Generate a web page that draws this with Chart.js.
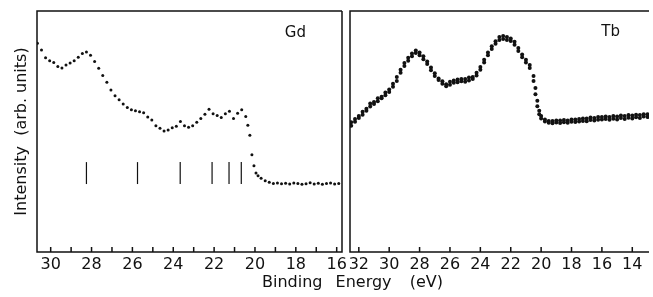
<!DOCTYPE html>
<html>
<head>
<meta charset="utf-8">
<script src="https://cdn.jsdelivr.net/npm/chart.js@4/dist/chart.umd.min.js"></script>
<style>
  html, body { margin: 0; padding: 0; background: #fff; }
  body { width: 653px; height: 297px; position: relative; overflow: hidden; }
  #gdBox { position: absolute; left: 0; top: 0; width: 346px; height: 297px; }
  #tbBox { position: absolute; left: 346px; top: 0; width: 307px; height: 297px; }
  #xTitle {
    position: absolute; top: 274px; left: 262px;
    font: 16px "DejaVu Sans", sans-serif; line-height: 16px;
    color: #111; word-spacing: 8px; white-space: pre;
  }
  #xTitle span { margin-left: 5px; }
</style>
</head>
<body>
<div id="gdBox"><canvas id="gdChart"></canvas></div>
<div id="tbBox"><canvas id="tbChart"></canvas></div>
<div id="xTitle">Binding Energy <span>(eV)</span></div>
<script>
// Gd spectrum (binding energy in eV, intensity in arb. units)
const gdEnergy = [30.65, 30.45, 30.25, 30.05, 29.85, 29.65, 29.45, 29.25, 29.05, 28.85,
  28.65, 28.45, 28.25, 28.05, 27.85, 27.65, 27.45, 27.25, 27.05, 26.85,
  26.65, 26.45, 26.25, 26.05, 25.85, 25.65, 25.45, 25.25, 25.05, 24.85,
  24.65, 24.45, 24.25, 24.05, 23.85, 23.65, 23.45, 23.25, 23.05, 22.85,
  22.65, 22.45, 22.25, 22.05, 21.85, 21.65, 21.45, 21.25, 21.05, 20.85,
  20.65, 20.45, 20.35, 20.25, 20.15, 20.05, 19.95, 19.85, 19.7, 19.5,
  19.3, 19.1, 18.9, 18.7, 18.5, 18.3, 18.1, 17.9, 17.7, 17.5,
  17.3, 17.1, 16.9, 16.7, 16.5, 16.3, 16.1, 15.9];
const gdIntensity = [86.6, 83.8, 80.6, 79.4, 78.6, 77.0, 76.4, 77.6, 78.4, 79.4,
  80.8, 82.4, 83.0, 81.6, 79.0, 76.2, 73.2, 70.4, 67.2, 64.8,
  63.2, 61.4, 60.0, 59.0, 58.6, 58.2, 57.8, 56.0, 54.8, 52.4,
  51.4, 50.2, 50.6, 51.6, 52.2, 54.2, 52.4, 51.8, 52.4, 53.8,
  55.4, 57.2, 59.2, 57.4, 56.6, 55.8, 57.4, 58.4, 55.4, 57.6,
  59.0, 56.2, 52.6, 48.4, 40.4, 35.8, 32.8, 31.6, 30.6, 29.6,
  28.9, 28.4, 28.6, 28.3, 28.5, 28.2, 28.6, 28.4, 28.1, 28.3,
  28.7, 28.2, 28.5, 28.1, 28.4, 28.6, 28.2, 28.4];
// vertical marker bars under the Gd spectrum
const gdMarkers = [28.25, 25.75, 23.66, 22.1, 21.27, 20.67];
const gdMarkerSpan = [28.2, 37.3];

// Tb spectrum, two overlapping scans
const tbEnergy = [32.5, 32.25, 32.0, 31.75, 31.5, 31.25, 31.0, 30.75, 30.5, 30.25,
  30.0, 29.75, 29.5, 29.25, 29.0, 28.75, 28.5, 28.25, 28.0, 27.75,
  27.5, 27.25, 27.0, 26.75, 26.5, 26.25, 26.0, 25.75, 25.5, 25.25,
  25.0, 24.75, 24.5, 24.25, 24.0, 23.75, 23.5, 23.25, 23.0, 22.75,
  22.5, 22.25, 22.0, 21.75, 21.5, 21.25, 21.0, 20.75, 20.5, 20.375,
  20.25, 20.125, 20.0, 19.75, 19.5, 19.25, 19.0, 18.75, 18.5, 18.25,
  18.0, 17.75, 17.5, 17.25, 17.0, 16.75, 16.5, 16.25, 16.0, 15.75,
  15.5, 15.25, 15.0, 14.75, 14.5, 14.25, 14.0, 13.75, 13.5, 13.25, 13.0];
const tbScanA = [52.4, 54.0, 55.6, 57.0, 58.6, 60.4, 61.4, 62.6, 63.8, 65.0,
  66.4, 68.6, 71.0, 74.4, 77.2, 79.4, 81.2, 82.6, 81.6, 80.0,
  78.0, 75.4, 73.0, 71.4, 69.8, 68.8, 69.4, 70.2, 70.4, 70.8,
  70.6, 71.2, 71.8, 73.2, 75.6, 78.6, 81.6, 84.2, 86.4, 88.0,
  88.4, 88.0, 87.6, 86.0, 83.4, 80.8, 78.6, 76.4, 71.0, 65.5,
  60.5, 57.2, 55.4, 54.2, 53.6, 53.4, 53.7, 53.5, 53.8, 53.6,
  54.0, 53.9, 54.2, 54.4, 54.3, 54.8, 54.6, 54.9, 55.0, 55.2,
  54.9, 55.3, 55.0, 55.6, 55.2, 55.7, 55.4, 55.9, 55.6, 56.2, 56.0];
const tbScanB = [53.8, 55.2, 56.4, 58.2, 59.4, 61.6, 62.2, 63.8, 64.4, 66.2,
  67.4, 69.8, 72.6, 75.6, 78.4, 80.6, 82.4, 83.6, 82.8, 81.2,
  79.0, 76.6, 74.2, 72.0, 70.8, 69.6, 70.6, 71.2, 71.6, 71.8,
  71.8, 72.4, 72.6, 74.4, 76.8, 79.8, 82.8, 85.4, 87.4, 89.2,
  89.6, 89.2, 88.6, 87.2, 84.6, 82.0, 79.8, 77.6, 73.0, 68.0,
  62.8, 58.6, 56.4, 55.0, 54.4, 54.4, 54.6, 54.6, 54.8, 54.6,
  55.0, 55.0, 55.2, 55.4, 55.4, 55.8, 55.6, 56.0, 56.0, 56.2,
  56.0, 56.4, 56.2, 56.6, 56.4, 56.8, 56.6, 57.0, 56.8, 57.2, 57.2];

// axes
const gdRange = [15.74, 30.67];
const tbRange = [12.9, 32.58];
const gdTicks = [30, 29, 28, 27, 26, 25, 24, 23, 22, 21, 20, 19, 18, 17, 16];
const gdTickLabels = [30, 28, 26, 24, 22, 20, 18, 16];
const tbTicks = [32, 30, 28, 26, 24, 22, 20, 18, 16, 14];
const tbTickLabels = [32, 30, 28, 26, 24, 22, 20, 18, 16, 14];

const ink = '#111';
const font = '"DejaVu Sans", sans-serif';

const framePlugin = {
  id: 'frame',
  afterDraw(chart, args, opts) {
    const {ctx, chartArea: a, scales: {x, y}} = chart;
    ctx.save();
    ctx.strokeStyle = ink;
    ctx.lineWidth = 1.5;
    ctx.beginPath();
    ctx.moveTo(a.right, a.top);
    ctx.lineTo(a.left, a.top);
    ctx.lineTo(a.left, a.bottom);
    ctx.lineTo(a.right, a.bottom);
    if (!opts.openRight) ctx.lineTo(a.right, a.top);
    x.ticks.forEach(t => {
      const px = x.getPixelForValue(t.value);
      ctx.moveTo(px, a.bottom);
      ctx.lineTo(px, a.bottom - 5);
    });
    ctx.stroke();
    ctx.fillStyle = ink;
    ctx.font = '15px ' + font;
    ctx.textAlign = 'center';
    ctx.textBaseline = 'middle';
    ctx.fillText(opts.label, x.getPixelForValue(opts.labelAt[0]), y.getPixelForValue(opts.labelAt[1]));
    ctx.restore();
  }
};

function toPoints(xs, ys) {
  return xs.map((e, i) => ({x: e, y: ys[i]}));
}

function xAxis(range, ticks, labels) {
  return {
    type: 'linear',
    reverse: true,
    min: range[0],
    max: range[1],
    grid: {display: false, drawTicks: false},
    border: {display: false},
    afterBuildTicks: s => { s.ticks = ticks.map(v => ({value: v})); },
    afterFit: s => { s.height = 45; s.paddingLeft = 0; s.paddingRight = 0; },
    ticks: {
      autoSkip: false,
      maxRotation: 0,
      padding: 3,
      color: ink,
      font: {family: font, size: 16},
      callback: v => labels.includes(v) ? String(v) : ''
    }
  };
}

function dots(label, data, r) {
  return {
    label: label,
    data: data,
    showLine: false,
    pointRadius: r,
    pointBorderWidth: 0,
    pointBackgroundColor: ink,
    pointBorderColor: ink
  };
}

const markerSets = gdMarkers.map(e => ({
  data: [{x: e, y: gdMarkerSpan[0]}, {x: e, y: gdMarkerSpan[1]}],
  showLine: true,
  borderColor: ink,
  borderWidth: 1.2,
  pointRadius: 0
}));

new Chart(document.getElementById('gdChart'), {
  type: 'scatter',
  data: {
    datasets: [dots('Gd', toPoints(gdEnergy, gdIntensity), 1.5), ...markerSets]
  },
  options: {
    responsive: true,
    maintainAspectRatio: false,
    animation: false,
    layout: {padding: {left: 0, right: 4, top: 11, bottom: 0}},
    plugins: {
      legend: {display: false},
      tooltip: {enabled: false},
      frame: {label: 'Gd', labelAt: [18.02, 90.7], openRight: false}
    },
    scales: {
      x: xAxis(gdRange, gdTicks, gdTickLabels),
      y: {
        min: 0,
        max: 100,
        grid: {display: false, drawTicks: false},
        border: {display: false},
        ticks: {display: false},
        afterFit: s => { s.width = 37; },
        title: {
          display: true,
          text: 'Intensity  (arb. units)',
          color: ink,
          font: {family: font, size: 16},
          padding: {top: 12, bottom: 0}
        }
      }
    }
  },
  plugins: [framePlugin]
});

new Chart(document.getElementById('tbChart'), {
  type: 'scatter',
  data: {
    datasets: [
      dots('Tb scan 1', toPoints(tbEnergy, tbScanA), 2),
      dots('Tb scan 2', toPoints(tbEnergy, tbScanB), 2)
    ]
  },
  options: {
    responsive: true,
    maintainAspectRatio: false,
    animation: false,
    layout: {padding: {left: 4, right: 0, top: 11, bottom: 0}},
    plugins: {
      legend: {display: false},
      tooltip: {enabled: false},
      frame: {label: 'Tb', labelAt: [15.43, 91.1], openRight: true}
    },
    scales: {
      x: xAxis(tbRange, tbTicks, tbTickLabels),
      y: {min: 0, max: 100, display: false}
    }
  },
  plugins: [framePlugin]
});
</script>
</body>
</html>
